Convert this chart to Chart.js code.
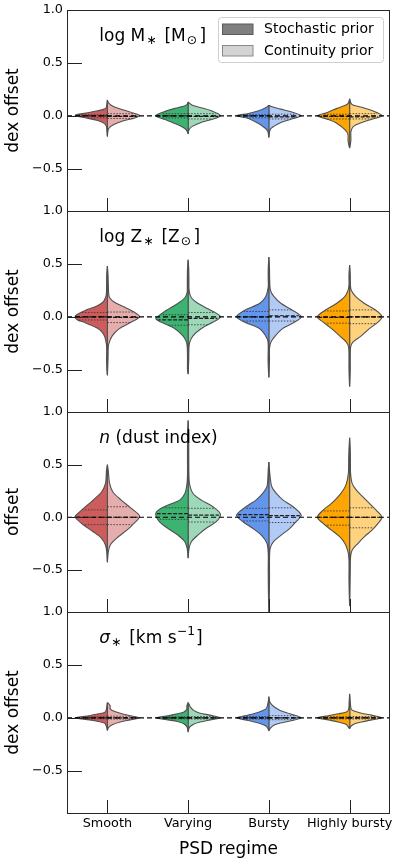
<!DOCTYPE html>
<html><head><meta charset="utf-8">
<script src="https://cdn.jsdelivr.net/npm/chart.js@4.4.1/dist/chart.umd.min.js"></script>
<style>
html,body{margin:0;padding:0;background:#fff;overflow:hidden;width:399px;height:864px}
canvas{position:absolute;left:0;top:0}
</style></head>
<body>
<canvas id="c0" width="399" height="864"></canvas>
<canvas id="c1" width="399" height="864"></canvas>
<canvas id="c2" width="399" height="864"></canvas>
<canvas id="c3" width="399" height="864"></canvas>
<script>
// ---------------- data ----------------
const categories = ['Smooth', 'Varying', 'Bursty', 'Highly bursty'];
const yTickValues = [-0.5, 0.0, 0.5, 1.0];
const yTickLabels = ['\u22120.5', '0.0', '0.5', '1.0'];
const yMin = -0.9, yMax = 1.0;
const panelYTitles = ['dex offset', 'dex offset', 'offset', 'dex offset'];
const xTitle = 'PSD regime';
const legendLabels = ['Stochastic prior', 'Continuity prior'];
const panelTitles = [
  [['log M', ''], ['\u2217', 'sub'], [' [M', ''], ['\u2299', 'sub'], [']', '']],
  [['log Z', ''], ['\u2217', 'sub'], [' [Z', ''], ['\u2299', 'sub'], [']', '']],
  [['n', 'it'], [' (dust index)', '']],
  [['\u03c3', 'it'], ['\u2217', 'sub'], [' [km s', ''], ['\u22121', 'sup'], [']', '']]
];
const stochasticColors = ['#cd5c5c', '#3cb371', '#6495ed', '#ffa500'];
const continuityColors = ['rgba(205,92,92,0.5)', 'rgba(60,179,113,0.5)', 'rgba(100,149,237,0.5)', 'rgba(255,165,0,0.5)'];

// violin half profiles: [offset value, relative half-width]  (one entry per regime)
const massStochastic = [
  [[0.15,0],[0.1,0.02],[0.076,0.04],[0.063,0.1],[0.047,0.3],[0.028,0.6],[0.005,1],[-0.025,0.6],[-0.044,0.3],[-0.072,0.1],[-0.1,0.03],[-0.19,0]],
  [[0.13,0],[0.105,0.04],[0.092,0.12],[0.076,0.33],[0.049,0.64],[0.0,1],[-0.044,0.64],[-0.082,0.33],[-0.12,0.1],[-0.145,0.03],[-0.167,0]],
  [[0.1,0],[0.076,0.1],[0.047,0.32],[0.022,0.63],[0,1],[-0.025,0.63],[-0.072,0.32],[-0.12,0.1],[-0.15,0.03],[-0.2,0]],
  [[0.16,0],[0.12,0.04],[0.1,0.13],[0.07,0.39],[0.032,0.69],[0,1],[-0.032,0.69],[-0.072,0.39],[-0.135,0.13],[-0.18,0.05],[-0.23,0.05],[-0.27,0.03],[-0.3,0]]
];
const massContinuity = [
  [[0.15,0],[0.117,0.05],[0.085,0.2],[0.054,0.51],[0.025,0.82],[0.0,1],[-0.025,0.8],[-0.047,0.5],[-0.082,0.2],[-0.12,0.04],[-0.19,0]],
  [[0.13,0],[0.1,0.13],[0.076,0.4],[0.049,0.7],[0,1],[-0.038,0.7],[-0.063,0.4],[-0.1,0.13],[-0.13,0.03],[-0.167,0]],
  [[0.1,0],[0.085,0.1],[0.063,0.37],[0.038,0.68],[0,1],[-0.032,0.68],[-0.063,0.37],[-0.1,0.15],[-0.13,0.04],[-0.2,0]],
  [[0.16,0],[0.12,0.04],[0.1,0.12],[0.08,0.38],[0.049,0.69],[0,1],[-0.032,0.69],[-0.063,0.38],[-0.1,0.12],[-0.15,0.04],[-0.23,0.04],[-0.3,0]]
];
const massStochasticQuart = [[-0.02,0,0.01],[-0.02,0,0.02],[-0.02,0,0.01],[-0.03,-0.005,0.015]];
const massContinuityQuart = [[-0.025,-0.005,0.02],[-0.03,-0.005,0.02],[-0.03,-0.01,0.015],[-0.03,-0.01,0.02]];

const metalStochastic = [
  [[0.48,0],[0.4,0.02],[0.3,0.025],[0.22,0.03],[0.18,0.06],[0.14,0.13],[0.1,0.34],[0.06,0.69],[0.02,0.95],[0,1],[-0.03,0.92],[-0.05,0.74],[-0.11,0.29],[-0.15,0.15],[-0.19,0.08],[-0.26,0.03],[-0.32,0.02],[-0.4,0.025],[-0.5,0.015],[-0.545,0]],
  [[0.54,0],[0.45,0.02],[0.35,0.025],[0.28,0.025],[0.23,0.03],[0.18,0.1],[0.125,0.32],[0.06,0.68],[0.0,0.95],[-0.02,1],[-0.05,0.84],[-0.11,0.42],[-0.18,0.16],[-0.24,0.05],[-0.3,0.025],[-0.4,0.02],[-0.5,0.02],[-0.535,0]],
  [[0.565,0],[0.45,0.02],[0.35,0.02],[0.28,0.02],[0.19,0.1],[0.125,0.29],[0.06,0.76],[0,1],[-0.05,0.76],[-0.11,0.29],[-0.18,0.1],[-0.23,0.03],[-0.3,0.02],[-0.4,0.025],[-0.5,0.015],[-0.565,0]],
  [[0.49,0],[0.4,0.02],[0.3,0.02],[0.25,0.05],[0.19,0.15],[0.125,0.41],[0.06,0.77],[0,1],[-0.05,0.82],[-0.11,0.57],[-0.18,0.31],[-0.24,0.1],[-0.29,0.03],[-0.38,0.02],[-0.5,0.02],[-0.65,0]]
];
const metalContinuity = [
  [[0.48,0],[0.4,0.02],[0.3,0.03],[0.22,0.04],[0.18,0.07],[0.135,0.23],[0.09,0.54],[0.04,0.85],[0,1],[-0.05,0.74],[-0.11,0.38],[-0.18,0.15],[-0.26,0.04],[-0.32,0.025],[-0.4,0.02],[-0.545,0]],
  [[0.54,0],[0.45,0.02],[0.35,0.025],[0.25,0.03],[0.18,0.1],[0.125,0.31],[0.06,0.71],[0,1],[-0.05,0.77],[-0.11,0.41],[-0.18,0.15],[-0.24,0.05],[-0.3,0.025],[-0.4,0.02],[-0.535,0]],
  [[0.565,0],[0.45,0.02],[0.35,0.025],[0.25,0.05],[0.19,0.16],[0.125,0.38],[0.06,0.74],[0,1],[-0.05,0.8],[-0.11,0.43],[-0.18,0.2],[-0.24,0.06],[-0.3,0.02],[-0.4,0.02],[-0.565,0]],
  [[0.49,0],[0.4,0.02],[0.3,0.025],[0.25,0.05],[0.19,0.19],[0.125,0.46],[0.06,0.82],[0,1],[-0.05,0.88],[-0.11,0.62],[-0.18,0.36],[-0.24,0.1],[-0.29,0.03],[-0.38,0.02],[-0.5,0.02],[-0.65,0]]
];
const metalStochasticQuart = [[-0.03,0,0.04],[-0.08,-0.03,0.02],[-0.04,0,0.05],[-0.06,-0.005,0.055]];
const metalContinuityQuart = [[-0.055,-0.005,0.045],[-0.075,-0.015,0.04],[-0.04,0.01,0.065],[-0.065,0,0.065]];

const dustStochastic = [
  [[0.5,0],[0.44,0.03],[0.4,0.035],[0.32,0.06],[0.24,0.18],[0.163,0.44],[0.084,0.74],[0.02,0.97],[0,1],[-0.074,0.74],[-0.137,0.44],[-0.2,0.18],[-0.263,0.06],[-0.326,0.02],[-0.42,0]],
  [[0.92,0],[0.8,0.015],[0.6,0.02],[0.4,0.02],[0.305,0.04],[0.226,0.1],[0.163,0.26],[0.1,0.74],[0.04,1],[-0.042,0.89],[-0.105,0.63],[-0.168,0.32],[-0.232,0.1],[-0.295,0.03],[-0.38,0]],
  [[0.525,0],[0.45,0.02],[0.38,0.03],[0.29,0.06],[0.226,0.19],[0.163,0.4],[0.1,0.71],[0.02,1],[-0.04,0.81],[-0.105,0.5],[-0.168,0.24],[-0.247,0.06],[-0.34,0.02],[-0.5,0.02],[-0.7,0.015],[-0.9,0]],
  [[0.756,0],[0.65,0.02],[0.55,0.03],[0.51,0.03],[0.415,0.04],[0.32,0.1],[0.257,0.2],[0.194,0.36],[0.13,0.57],[0.068,0.82],[0,1],[-0.058,0.82],[-0.12,0.57],[-0.184,0.31],[-0.247,0.15],[-0.326,0.05],[-0.405,0.02],[-0.6,0.02],[-0.83,0]]
];
const dustContinuity = [
  [[0.5,0],[0.44,0.03],[0.4,0.04],[0.32,0.07],[0.24,0.17],[0.163,0.43],[0.084,0.74],[0.01,1],[-0.074,0.77],[-0.137,0.54],[-0.2,0.28],[-0.263,0.09],[-0.326,0.03],[-0.42,0]],
  [[0.92,0],[0.8,0.015],[0.6,0.02],[0.4,0.025],[0.305,0.05],[0.226,0.15],[0.163,0.41],[0.1,0.77],[0.03,1],[-0.042,0.87],[-0.105,0.56],[-0.168,0.31],[-0.232,0.1],[-0.295,0.03],[-0.38,0]],
  [[0.525,0],[0.45,0.02],[0.38,0.04],[0.29,0.09],[0.226,0.23],[0.163,0.44],[0.1,0.75],[0.02,1],[-0.04,0.85],[-0.105,0.65],[-0.168,0.39],[-0.23,0.15],[-0.295,0.04],[-0.4,0.02],[-0.6,0.02],[-0.9,0]],
  [[0.756,0],[0.65,0.02],[0.55,0.025],[0.415,0.03],[0.32,0.08],[0.257,0.21],[0.194,0.41],[0.13,0.62],[0.068,0.82],[0,1],[-0.058,0.88],[-0.12,0.7],[-0.184,0.46],[-0.247,0.26],[-0.31,0.08],[-0.374,0.03],[-0.5,0.02],[-0.83,0]]
];
const dustStochasticQuart = [[-0.07,0,0.07],[-0.02,0.035,0.09],[-0.035,0.025,0.085],[-0.075,0,0.06]];
const dustContinuityQuart = [[-0.07,0,0.1],[-0.045,0.02,0.085],[-0.05,0.015,0.09],[-0.1,0,0.09]];

const dispStochastic = [
  [[0.144,0],[0.1,0.02],[0.07,0.04],[0.05,0.09],[0.038,0.27],[0.02,0.55],[0,1],[-0.02,0.55],[-0.035,0.27],[-0.05,0.09],[-0.08,0.03],[-0.115,0]],
  [[0.144,0],[0.11,0.04],[0.08,0.04],[0.055,0.13],[0.038,0.33],[0.02,0.62],[0,1],[-0.02,0.62],[-0.035,0.33],[-0.057,0.13],[-0.09,0.03],[-0.13,0]],
  [[0.2,0],[0.15,0.02],[0.11,0.05],[0.082,0.1],[0.053,0.32],[0.027,0.63],[0,1],[-0.026,0.63],[-0.05,0.32],[-0.076,0.1],[-0.1,0.03],[-0.12,0]],
  [[0.226,0],[0.15,0.015],[0.08,0.03],[0.055,0.1],[0.038,0.35],[0.02,0.65],[0,1],[-0.02,0.65],[-0.04,0.35],[-0.063,0.1],[-0.1,0]]
];
const dispContinuity = [
  [[0.144,0],[0.13,0.05],[0.11,0.09],[0.09,0.08],[0.07,0.15],[0.043,0.4],[0.02,0.7],[0,1],[-0.02,0.7],[-0.04,0.4],[-0.066,0.15],[-0.09,0.04],[-0.115,0]],
  [[0.144,0],[0.12,0.04],[0.1,0.07],[0.07,0.17],[0.043,0.37],[0.025,0.68],[0,1],[-0.02,0.68],[-0.04,0.37],[-0.06,0.17],[-0.09,0.04],[-0.13,0]],
  [[0.2,0],[0.15,0.03],[0.107,0.15],[0.07,0.35],[0.038,0.65],[0,1],[-0.03,0.65],[-0.05,0.35],[-0.07,0.15],[-0.1,0.04],[-0.12,0]],
  [[0.226,0],[0.15,0.02],[0.08,0.05],[0.062,0.16],[0.043,0.37],[0.025,0.68],[0,1],[-0.02,0.68],[-0.04,0.37],[-0.057,0.16],[-0.08,0.04],[-0.1,0]]
];
const dispStochasticQuart = [[-0.01,0,0.01],[-0.01,0,0.01],[-0.012,0,0.012],[-0.01,0,0.01]];
const dispContinuityQuart = [[-0.012,0,0.015],[-0.012,0,0.012],[-0.018,0,0.02],[-0.012,0,0.012]];

// ---------------- drawing ----------------
const FONT = "'DejaVu Sans', sans-serif";
Chart.defaults.font.family = FONT;
Chart.defaults.color = '#000';
const HALF = 0.4;          // half violin width in category units
const panelTops = [10, 211, 412, 612];
const panelBottoms = [211, 412, 612, 813];

const panels = [
  {stoch: massStochastic, cont: massContinuity, sq: massStochasticQuart, cq: massContinuityQuart},
  {stoch: metalStochastic, cont: metalContinuity, sq: metalStochasticQuart, cq: metalContinuityQuart},
  {stoch: dustStochastic, cont: dustContinuity, sq: dustStochasticQuart, cq: dustContinuityQuart},
  {stoch: dispStochastic, cont: dispContinuity, sq: dispStochasticQuart, cq: dispContinuityQuart}
];

function widthAt(profile, y) {
  for (let i = 0; i < profile.length - 1; i++) {
    const [y0, w0] = profile[i], [y1, w1] = profile[i + 1];
    if (y <= y0 && y >= y1) { const t = (y0 - y) / ((y0 - y1) || 1); return w0 + (w1 - w0) * t; }
  }
  return 0;
}

function buildDatasets(p) {
  const ds = [];
  categories.forEach((cat, i) => {
    [[p.stoch[i], p.sq[i], -1, stochasticColors[i]], [p.cont[i], p.cq[i], 1, continuityColors[i]]].forEach(([prof, q, side, col]) => {
      const pts = prof.map(([y, w]) => ({x: i + side * w * HALF, y}));
      pts.push({x: i, y: prof[0][0]});
      ds.push({data: pts, showLine: true, fill: 'shape', backgroundColor: col, borderColor: '#505050',
               borderWidth: 1.1, tension: 0.3, pointRadius: 0, order: 3});
      q.forEach((v, k) => {
        const w = widthAt(prof, v) * 0.97;
        ds.push({data: [{x: i, y: v}, {x: i + side * w * HALF, y: v}], showLine: true, fill: false,
                 borderColor: k === 1 ? '#1e1e1e' : '#3a3a3a', borderWidth: k === 1 ? 1.2 : 0.9,
                 borderDash: k === 1 ? [4, 1.5] : [1.5, 1.5], pointRadius: 0, tension: 0, order: 2});
      });
    });
  });
  ds.push({data: [{x: -0.5, y: 0}, {x: 3.5, y: 0}], showLine: true, fill: false, borderColor: '#000',
           borderWidth: 1.2, borderDash: [5, 3], pointRadius: 0, order: 1});
  return ds;
}

function drawRich(ctx, segs, x, y, size) {
  ctx.textBaseline = 'alphabetic';
  ctx.textAlign = 'left';
  for (const [t, kind] of segs) {
    let fs = size, dy = 0, st = '';
    if (kind === 'sub') { fs = size * 0.72; dy = size * 0.2; x += 1; }
    if (kind === 'sup') { fs = size * 0.72; dy = -size * 0.42; x += 0.5; }
    if (kind === 'it') st = 'italic ';
    ctx.font = st + fs + 'px ' + FONT;
    ctx.fillText(t, x, y + dy);
    x += ctx.measureText(t).width + (kind === 'sub' ? 2.5 : (kind === 'sup' ? 1 : 0));
  }
}

const decor = {
  id: 'decor',
  afterDraw(chart, args, opts) {
    const ctx = chart.ctx, a = chart.chartArea;
    const xs = chart.scales.x, ys = chart.scales.y;
    ctx.save();
    ctx.strokeStyle = '#222';
    ctx.lineWidth = 1;
    // ticks (inward)
    yTickValues.forEach(v => {
      const y = Math.round(ys.getPixelForValue(v)) + 0.5;
      ctx.beginPath(); ctx.moveTo(a.left, y); ctx.lineTo(a.left + 15, y); ctx.stroke();
    });
    categories.forEach((c, i) => {
      const x = Math.round(xs.getPixelForValue(i)) + 0.5;
      ctx.beginPath(); ctx.moveTo(x, a.bottom); ctx.lineTo(x, a.bottom - 13); ctx.stroke();
    });
    // frame
    ctx.strokeStyle = '#262626';
    ctx.strokeRect(a.left + 0.5, a.top + 0.5, a.right - a.left - 1, a.bottom - a.top);
    // panel title
    ctx.fillStyle = '#000';
    drawRich(ctx, panelTitles[opts.panel], a.left + 0.1 * (a.right - a.left), a.top + 30.5, 17);
    // legend
    if (opts.panel === 0) {
      const L = 218.5, T = 17.5, W = 165, H = 45, r = 3;
      ctx.beginPath();
      ctx.moveTo(L + r, T); ctx.lineTo(L + W - r, T); ctx.arcTo(L + W, T, L + W, T + r, r);
      ctx.lineTo(L + W, T + H - r); ctx.arcTo(L + W, T + H, L + W - r, T + H, r);
      ctx.lineTo(L + r, T + H); ctx.arcTo(L, T + H, L, T + H - r, r);
      ctx.lineTo(L, T + r); ctx.arcTo(L, T, L + r, T, r); ctx.closePath();
      ctx.fillStyle = 'rgba(255,255,255,0.85)'; ctx.fill();
      ctx.strokeStyle = '#cfcfcf'; ctx.stroke();
      const patch = [['#7f7f7f', '#5a5a5a'], ['#d3d3d3', '#8a8a8a']];
      [0, 1].forEach(k => {
        const py = T + 6.5 + k * 21.5;
        ctx.fillStyle = patch[k][0]; ctx.fillRect(L + 4, py, 30.5, 10.5);
        ctx.strokeStyle = patch[k][1]; ctx.strokeRect(L + 4, py, 30.5, 10.5);
        ctx.fillStyle = '#000'; ctx.font = '14px ' + FONT;
        ctx.textBaseline = 'middle'; ctx.textAlign = 'left';
        ctx.fillText(legendLabels[k], L + 45.5, py + 5.5);
      });
    }
    ctx.restore();
  }
};

panels.forEach((p, idx) => {
  const last = idx === 3;
  new Chart(document.getElementById('c' + idx), {
    type: 'scatter',
    data: {datasets: buildDatasets(p)},
    plugins: [decor],
    options: {
      responsive: false, animation: false, devicePixelRatio: 1, events: [],
      layout: {padding: {left: 0, right: 9, top: panelTops[idx], bottom: last ? 0 : 864 - panelBottoms[idx]}},
      plugins: {legend: {display: false}, tooltip: {enabled: false}, decor: {panel: idx}},
      scales: {
        x: {
          type: 'linear', min: -0.5, max: 3.5, display: last,
          afterBuildTicks: s => { s.ticks = categories.map((c, i) => ({value: i})); },
          ticks: {callback: (v, i) => categories[i], autoSkip: false, maxRotation: 0, minRotation: 0,
                  padding: 3, color: '#000', font: {size: 12.8}},
          grid: {display: false, drawTicks: false}, border: {display: false},
          title: {display: true, text: xTitle, color: '#000', font: {size: 17}, padding: {top: 0, bottom: 4}},
          afterFit: s => { s.height = last ? 51 : 0; s.paddingLeft = 0; s.paddingRight = 0; }
        },
        y: {
          type: 'linear', min: yMin, max: yMax,
          afterBuildTicks: s => { s.ticks = yTickValues.map(v => ({value: v})); },
          ticks: {callback: (v, i) => yTickLabels[i], padding: 4, color: '#000', font: {size: 12.8}},
          grid: {display: false, drawTicks: false}, border: {display: false},
          title: {display: true, text: panelYTitles[idx], color: '#000', font: {size: 17}, padding: {top: 3, bottom: 0}},
          afterFit: s => { s.width = 67; s.paddingTop = 0; s.paddingBottom = 0; }
        }
      }
    }
  });
});
</script>
</body></html>
